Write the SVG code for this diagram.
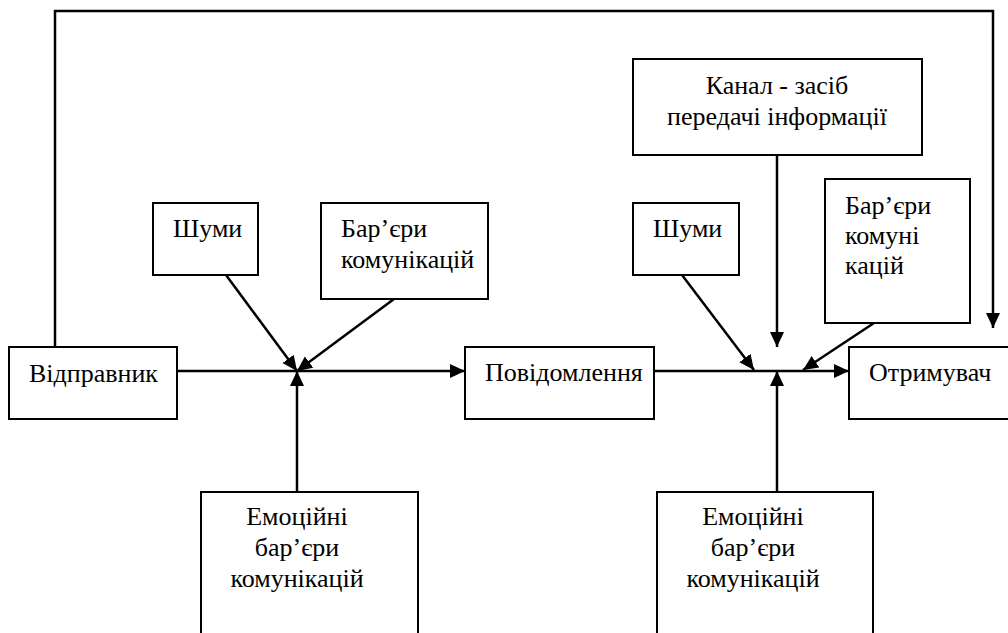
<svg xmlns="http://www.w3.org/2000/svg" width="1008" height="633" viewBox="0 0 1008 633">
<defs>
<marker id="ah" markerUnits="userSpaceOnUse" markerWidth="16" markerHeight="16" viewBox="0 0 16 16" refX="15" refY="8" orient="auto">
<path d="M0,1 L15,8 L0,15 Z" fill="#000"/>
</marker>
</defs>
<g id="connectors" fill="none" stroke="#000" stroke-width="2.5">
<path d="M55,347 V11 H993 V328" marker-end="url(#ah)"/>
<line x1="177" y1="371" x2="465" y2="371" marker-end="url(#ah)"/>
<line x1="226" y1="275" x2="297" y2="371" marker-end="url(#ah)"/>
<line x1="394" y1="299" x2="297" y2="371" marker-end="url(#ah)"/>
<line x1="297" y1="492" x2="297" y2="371" marker-end="url(#ah)"/>
<line x1="654" y1="371" x2="849" y2="371" marker-end="url(#ah)"/>
<line x1="682" y1="275" x2="754" y2="370" marker-end="url(#ah)"/>
<line x1="874" y1="323" x2="803" y2="370" marker-end="url(#ah)"/>
<line x1="777" y1="155" x2="777" y2="347" marker-end="url(#ah)"/>
<line x1="777" y1="492" x2="777" y2="371" marker-end="url(#ah)"/>
</g>
<g font-family="Liberation Serif" font-size="26" fill="#000">
<g id="sender">
<rect fill="#fff" stroke="#000" stroke-width="2" x="9" y="347" width="168" height="72"/>
<text style="font-family:'Liberation Serif',serif;font-size:26px" x="29" y="382">Відправник</text>
</g>
<g id="noise1">
<rect fill="#fff" stroke="#000" stroke-width="2" x="153" y="203" width="105" height="72"/>
<text style="font-family:'Liberation Serif',serif;font-size:26px" x="173" y="237">Шуми</text>
</g>
<g id="barriers1">
<rect fill="#fff" stroke="#000" stroke-width="2" x="321" y="203" width="167" height="96"/>
<text style="font-family:'Liberation Serif',serif;font-size:26px" x="341" y="237">Бар’єри</text>
<text style="font-family:'Liberation Serif',serif;font-size:26px" x="341" y="268">комунікацій</text>
</g>
<g id="message">
<rect fill="#fff" stroke="#000" stroke-width="2" x="465" y="347" width="189" height="72"/>
<text style="font-family:'Liberation Serif',serif;font-size:26px" x="485" y="381">Повідомлення</text>
</g>
<g id="emotional1" text-anchor="middle">
<rect fill="#fff" stroke="#000" stroke-width="2" x="201" y="492" width="217" height="170"/>
<text style="font-family:'Liberation Serif',serif;font-size:26px" x="297" y="525">Емоційні</text>
<text style="font-family:'Liberation Serif',serif;font-size:26px" x="297" y="556">бар’єри</text>
<text style="font-family:'Liberation Serif',serif;font-size:26px" x="297" y="587">комунікацій</text>
</g>
<g id="channel" text-anchor="middle">
<rect fill="#fff" stroke="#000" stroke-width="2" x="633" y="59" width="289" height="96"/>
<text style="font-family:'Liberation Serif',serif;font-size:26px" x="777" y="94">Канал - засіб</text>
<text style="font-family:'Liberation Serif',serif;font-size:26px" x="777" y="125">передачі інформації</text>
</g>
<g id="noise2">
<rect fill="#fff" stroke="#000" stroke-width="2" x="633" y="203" width="106" height="72"/>
<text style="font-family:'Liberation Serif',serif;font-size:26px" x="653" y="237">Шуми</text>
</g>
<g id="barriers2">
<rect fill="#fff" stroke="#000" stroke-width="2" x="825" y="179" width="145" height="144"/>
<text style="font-family:'Liberation Serif',serif;font-size:26px" x="845" y="214">Бар’єри</text>
<text style="font-family:'Liberation Serif',serif;font-size:26px" x="845" y="244">комуні</text>
<text style="font-family:'Liberation Serif',serif;font-size:26px" x="845" y="274">кацій</text>
</g>
<g id="receiver">
<rect fill="#fff" stroke="#000" stroke-width="2" x="849" y="347" width="180" height="72"/>
<text style="font-family:'Liberation Serif',serif;font-size:26px" x="869" y="381">Отримувач</text>
</g>
<g id="emotional2" text-anchor="middle">
<rect fill="#fff" stroke="#000" stroke-width="2" x="657" y="492" width="216" height="170"/>
<text style="font-family:'Liberation Serif',serif;font-size:26px" x="753" y="525">Емоційні</text>
<text style="font-family:'Liberation Serif',serif;font-size:26px" x="753" y="556">бар’єри</text>
<text style="font-family:'Liberation Serif',serif;font-size:26px" x="753" y="587">комунікацій</text>
</g>
</g>
</svg>
